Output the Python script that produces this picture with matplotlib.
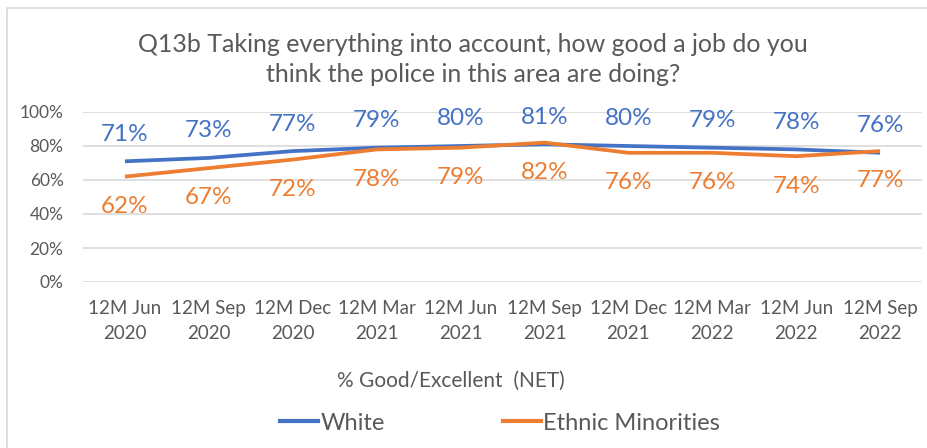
import matplotlib
matplotlib.use("Agg")
import matplotlib.pyplot as plt
from matplotlib.lines import Line2D
from matplotlib.patches import Rectangle

periods = ["12M Jun\n2020", "12M Sep\n2020", "12M Dec\n2020", "12M Mar\n2021", "12M Jun\n2021",
           "12M Sep\n2021", "12M Dec\n2021", "12M Mar\n2022", "12M Jun\n2022", "12M Sep\n2022"]
white = [71, 73, 77, 79, 80, 81, 80, 79, 78, 76]
ethnic_minorities = [62, 67, 72, 78, 79, 82, 76, 76, 74, 77]
y_ticks = [0, 20, 40, 60, 80, 100]

BLUE = "#4472C4"
ORANGE = "#ED7D31"
GREY = "#595959"
GRID = "#D9D9D9"

FONT = ["Lato", "DejaVu Sans"]

W, H, DPI = 928, 448, 100
fig = plt.figure(figsize=(W / DPI, H / DPI), dpi=DPI)
fig.patch.set_facecolor("white")

# outer frame: only left and top edges fall inside the canvas
fig.patches.append(Rectangle((7 / W, -0.1), 1.2, 1 - 8 / H + 0.1, transform=fig.transFigure,
                             fill=False, edgecolor=GRID, linewidth=1.2))

ax = fig.add_axes([83 / W, 1 - 282 / H, (922 - 83) / W, 170 / H])
x = list(range(len(periods)))

ax.plot(x, white, color=BLUE, linewidth=2.7, solid_capstyle="butt", zorder=3)
ax.plot(x, ethnic_minorities, color=ORANGE, linewidth=2.7, solid_capstyle="butt", zorder=3)

for xi, v in zip(x, white):
    ax.annotate(f"{v}%", (xi, v), xytext=(0, 19.5), textcoords="offset points",
                ha="center", va="center", color=BLUE, fontsize=17.5, family=FONT)
for xi, v in zip(x, ethnic_minorities):
    ax.annotate(f"{v}%", (xi, v), xytext=(0, -21.5), textcoords="offset points",
                ha="center", va="center", color=ORANGE, fontsize=17.5, family=FONT)

ax.set_xlim(-0.5, len(periods) - 0.5)
ax.set_ylim(0, 100)
ax.set_yticks(y_ticks)
ax.set_yticklabels([f"{t}%" for t in y_ticks], family=FONT, fontsize=12.5, color=GREY)
ax.set_xticks(x)
ax.set_xticklabels(periods, family=FONT, fontsize=13.5, color=GREY, linespacing=1.55)
ax.tick_params(axis="both", length=0)
ax.tick_params(axis="x", pad=13)
ax.tick_params(axis="y", pad=14)
ax.grid(axis="y", color=GRID, linewidth=1.2)
ax.set_axisbelow(True)
for s in ax.spines.values():
    s.set_visible(False)

fig.text(473 / W, 1 - 45 / H, "Q13b Taking everything into account, how good a job do you",
         ha="center", va="center", fontsize=18, color=GREY, family=FONT)
fig.text(473 / W, 1 - 75 / H, "think the police in this area are doing?",
         ha="center", va="center", fontsize=18, color=GREY, family=FONT)

fig.text(451 / W, 1 - 381 / H, "% Good/Excellent  (NET)", ha="center", va="center",
         fontsize=15, color=GREY, family=FONT)

handles = [Line2D([], [], color=BLUE, linewidth=3),
           Line2D([], [], color=ORANGE, linewidth=3)]
fig.legend(handles, ["White", "Ethnic Minorities"], loc="center", ncol=2,
           bbox_to_anchor=(500 / W, 1 - 423 / H), frameon=False,
           handlelength=1.6, handletextpad=0.1, columnspacing=5.0,
           prop={"family": FONT, "size": 17}, labelcolor=GREY)

fig.savefig("out.png", dpi=DPI, facecolor="white")
